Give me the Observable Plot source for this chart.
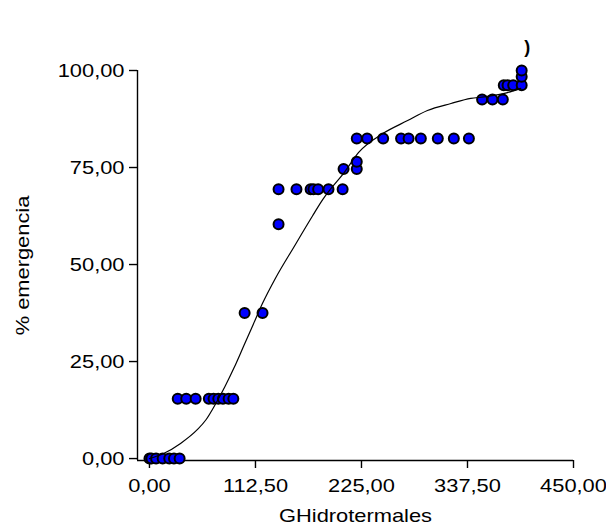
<!DOCTYPE html>
<html><head><meta charset="utf-8">
<script src="https://cdn.jsdelivr.net/npm/d3@7"></script>
<script src="https://cdn.jsdelivr.net/npm/@observablehq/plot@0.6"></script>
<style>body{margin:0;background:#fff} svg{display:block}</style>
</head><body><div id="chart"></div>
<script>
// Observed points: GHidrotermales vs % emergencia
const ghX = [0, 2, 7, 14, 21, 26, 32,
  30, 39, 49, 63, 68, 73, 78, 84, 89,
  101, 120,
  137,
  137, 156, 171, 174, 179, 190, 205,
  206, 220,
  220,
  220, 231, 248, 267, 275, 288, 306, 323, 339,
  353, 364, 375,
  376, 380, 386, 395,
  395, 395];
const emergencia = [0, 0, 0, 0, 0, 0, 0,
  15.4, 15.4, 15.4, 15.4, 15.4, 15.4, 15.4, 15.4, 15.4,
  37.5, 37.5,
  60.4,
  69.4, 69.4, 69.4, 69.4, 69.4, 69.4, 69.4,
  74.6, 74.6,
  76.5,
  82.5, 82.5, 82.5, 82.5, 82.5, 82.5, 82.5, 82.5, 82.5,
  92.5, 92.5, 92.5,
  96.2, 96.2, 96.2, 96.2,
  98.4, 100];
// Fitted curve
const curveX = [0, 15, 33, 51, 60, 70, 80, 90, 100, 110, 120, 134, 153, 173, 184, 192, 206, 222, 248, 274, 295, 320, 341, 355, 380, 394];
const curveY = [0, 1.3, 3.9, 7.5, 10, 14, 18.5, 23.5, 29, 34.5, 40, 46.6, 54.4, 62.5, 66.8, 69.4, 73.5, 78.9, 83.8, 87.1, 89.7, 91.5, 92.8, 93.2, 94.3, 95.4];
const xTicks = [0, 112.5, 225, 337.5, 450];
const yTicks = [0, 25, 50, 75, 100];
const xLabel = "GHidrotermales";
const yLabel = "% emergencia";
const stray = [{x: 401, y: 106, t: ")"}];

const points = ghX.map((x, i) => ({x, y: emergencia[i]}));
const curve = curveX.map((x, i) => ({x, y: curveY[i]}));
const fmt = d => d.toFixed(2).replace(".", ",");
const xMin = -12.7, yMin = -0.5;

const chart = Plot.plot({
  width: 606, height: 527,
  marginLeft: 137, marginRight: 33, marginTop: 70, marginBottom: 67,
  style: {fontFamily: "'Liberation Sans', Arial, sans-serif", fontSize: "19px", color: "#000", background: "#fff", overflow: "visible"},
  x: {domain: [xMin, 450]},
  y: {domain: [yMin, 100]},
  marks: [
    Plot.axisX({ticks: xTicks, tickFormat: fmt, tickSize: 8, tickPadding: 10, label: null, strokeWidth: 1.4}),
    Plot.axisY({ticks: yTicks, tickFormat: fmt, tickSize: 8, tickPadding: 5, label: null, strokeWidth: 1.4}),
    Plot.ruleX([xMin], {y1: yMin, y2: 100, strokeWidth: 1.4}),
    Plot.ruleY([yMin], {x1: xMin, x2: 450, strokeWidth: 1.4}),
    Plot.dot(points, {x: "x", y: "y", r: 5, fill: "#0000ff", stroke: "#000", strokeWidth: 2}),
    Plot.line(curve, {x: "x", y: "y", stroke: "#000", strokeWidth: 1.2, curve: "monotone-x"}),
    Plot.text([xLabel], {frameAnchor: "bottom", dy: 55, lineAnchor: "middle", textAnchor: "middle", fontSize: 19, className: "stretch"}),
    Plot.text([yLabel], {frameAnchor: "left", dx: -115, rotate: -90, lineAnchor: "middle", textAnchor: "middle", fontSize: 19, className: "stretch"}),
    Plot.text(stray, {x: "x", y: "y", text: "t", fontSize: 18, fontWeight: "bold"})
  ]
});
document.getElementById("chart").appendChild(chart);
// widen the glyphs slightly, as in the reference
chart.querySelectorAll('g[aria-label$="tick label"] text, g.stretch text').forEach(el => {
  const w = el.getComputedTextLength();
  el.setAttribute("textLength", (w * 1.15).toFixed(1));
  el.setAttribute("lengthAdjust", "spacingAndGlyphs");
});
</script>
</body></html>
